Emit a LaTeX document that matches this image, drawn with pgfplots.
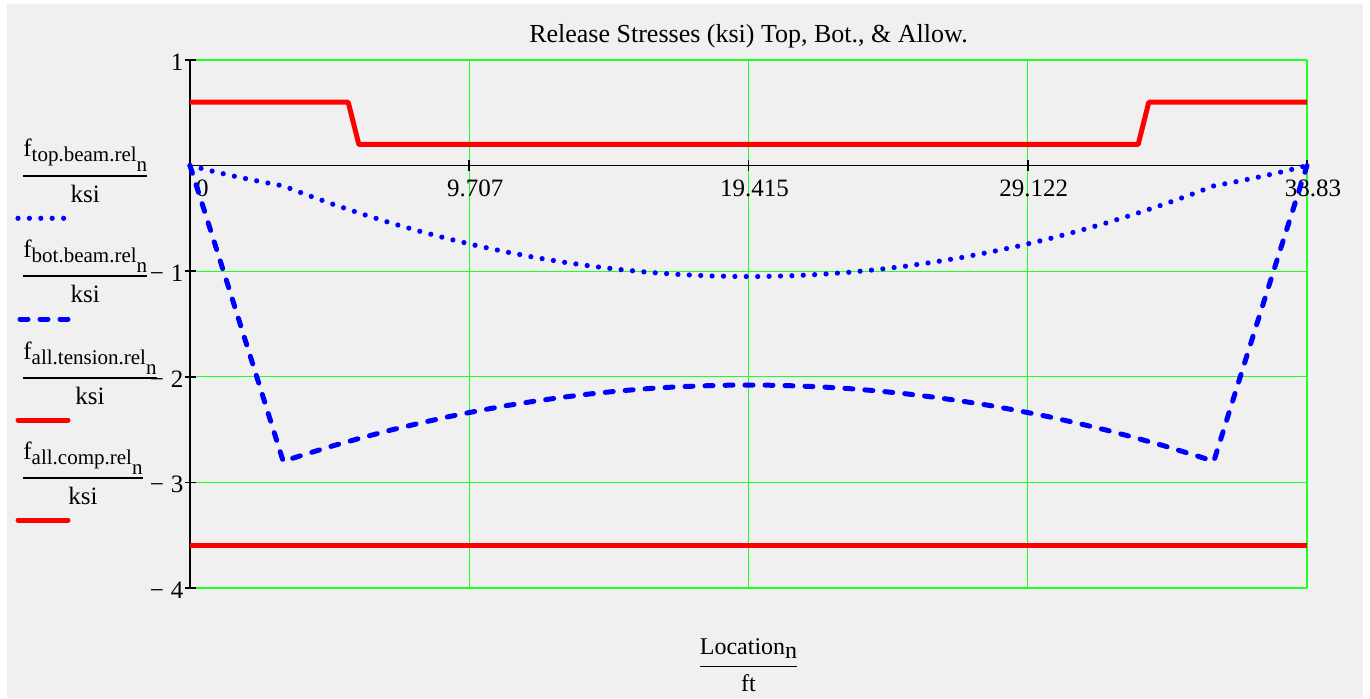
\documentclass[border=0pt]{standalone}
\usepackage{pgfplots}
\pgfplotsset{compat=1.18}
\usepackage{pgfplotstable}
\usepackage{fontspec}
\setmainfont{Liberation Serif}
\definecolor{bg}{HTML}{F0F0F0}
\definecolor{gridgreen}{HTML}{20FF20}

% stresses along the beam (ksi), symmetric about midspan
\pgfplotstableread{
x      top     bot
0      0       0
0.5    -0.034  -0.428
1      -0.067  -0.858
1.5    -0.098  -1.289
2      -0.127  -1.722
2.5    -0.154  -2.155
3      -0.180  -2.591
3.24   -0.192  -2.800
4      -0.271  -2.734
5      -0.369  -2.651
6      -0.460  -2.575
7      -0.545  -2.503
8      -0.623  -2.438
9      -0.695  -2.377
10     -0.760  -2.323
11     -0.818  -2.273
12     -0.870  -2.230
13     -0.915  -2.192
14     -0.954  -2.159
15     -0.986  -2.132
16     -1.012  -2.110
17     -1.031  -2.094
18     -1.044  -2.084
19     -1.050  -2.078
19.415 -1.050  -2.078
19.83  -1.050  -2.078
20.83  -1.044  -2.084
21.83  -1.031  -2.094
22.83  -1.012  -2.110
23.83  -0.986  -2.132
24.83  -0.954  -2.159
25.83  -0.915  -2.192
26.83  -0.870  -2.230
27.83  -0.818  -2.273
28.83  -0.760  -2.323
29.83  -0.695  -2.377
30.83  -0.623  -2.438
31.83  -0.545  -2.503
32.83  -0.460  -2.575
33.83  -0.369  -2.651
34.83  -0.271  -2.734
35.59  -0.192  -2.800
35.83  -0.180  -2.591
36.33  -0.154  -2.155
36.83  -0.127  -1.722
37.33  -0.098  -1.289
37.83  -0.067  -0.858
38.33  -0.034  -0.428
38.83  0       0
}\stresses

\pgfplotstableread{
x      ften
0      0.6
5.50   0.6
5.87   0.2
32.96  0.2
33.33  0.6
38.83  0.6
}\tension

\pgfplotstableread{
x      fcomp
0      -3.6
38.83  -3.6
}\compression

\newcommand{\fr}[2]{\begin{tabular}[t]{@{}c@{}}#1\\[5pt]\hline\rule{0pt}{13pt}#2\end{tabular}}
\newcommand{\sub}[2]{#1\raisebox{-2.5pt}{\fontsize{10.5}{12}\selectfont #2\raisebox{-5pt}{n}}}

\begin{document}
\begin{tikzpicture}
\fill[white] (0,0) rectangle (685pt,349pt);
\fill[bg] (3.5pt,0) rectangle (681.5pt,347pt);
\useasboundingbox (0,0) rectangle (685pt,349pt);
\begin{axis}[
    at={(95pt,55pt)}, anchor=south west,
    scale only axis,
    width=558.5pt, height=264pt,
    xmin=0, xmax=38.83, ymin=-4, ymax=1,
    enlargelimits=false,
    axis lines=middle,
    axis line style={-, black, line width=0.75pt},
    hide obscured x ticks=false, hide obscured y ticks=false,
    xtick={0,9.707,19.415,29.122,38.83},
    xticklabels={\hphantom{0}0,9.707,19.415,29.122,38.83},
    ytick={-4,-3,-2,-1,1},
    yticklabels={{−\hspace{3.5pt}4},{−\hspace{3.5pt}3},{−\hspace{3.5pt}2},{−\hspace{3.5pt}1},1},
    tick align=center,
    major tick length=5.5pt,
    tick style={black, line width=0.75pt},
    grid=major,
    grid style={gridgreen, line width=0.6pt},
    ticklabel style={font=\fontsize{12.5}{15}\selectfont},
    xticklabel style={xshift=3pt, yshift=-1pt},
    yticklabel style={xshift=3pt, yshift=-1.2pt},
    title={Release Stresses (ksi) Top, Bot., \& Allow.},
    title style={at={(rel axis cs:0.5,1)}, anchor=base, yshift=3pt,
                 font=\fontsize{13}{15}\selectfont},
    xlabel={\renewcommand{\arraystretch}{1}\begin{tabular}[t]{@{}c@{}}Location\raisebox{-2pt}{n}\\[2pt]\hline\rule{0pt}{12pt}ft\end{tabular}},
    xlabel style={at={(rel axis cs:0.5,0)}, anchor=base, yshift=-33pt,
                  font=\fontsize{12}{14}\selectfont},
    clip=false,
]
\addplot[red, line width=2.5pt, line join=round] table[x=x, y=ften] {\tension};
\addplot[red, line width=2.5pt] table[x=x, y=fcomp] {\compression};
\addplot[blue, line width=2.6pt, line cap=round, dash pattern=on 0pt off 5.7pt] table[x=x, y=top] {\stresses};
\addplot[blue, line width=2.5pt, line cap=round, dash pattern=on 4pt off 6pt] table[x=x, y=bot] {\stresses};
\end{axis}

% legend at the left
\begingroup
\fontsize{12.5}{14}\selectfont
\setlength{\arrayrulewidth}{0.75pt}
\node[anchor=base west, inner sep=0] at (11.5pt,270.6pt) {\fr{\sub{f}{top.beam.rel}}{ksi}};
\node[anchor=base west, inner sep=0] at (11.5pt,220.5pt) {\fr{\sub{f}{bot.beam.rel}}{ksi}};
\node[anchor=base west, inner sep=0] at (11.5pt,169.5pt) {\fr{\sub{f}{all.tension.rel}}{ksi}};
\node[anchor=base west, inner sep=0] at (11.5pt,119.5pt) {\fr{\sub{f}{all.comp.rel}}{ksi}};
\endgroup
\draw[blue, line width=2.6pt, line cap=round, dash pattern=on 0pt off 5.7pt] (9pt,239.85pt) -- (34pt,239.85pt);
\draw[blue, line width=2.5pt, line cap=round, dash pattern=on 4pt off 6pt] (10pt,189.5pt) -- (34pt,189.5pt);
\draw[red, line width=2.5pt, line cap=round] (9pt,139pt) -- (34pt,139pt);
\draw[red, line width=2.5pt, line cap=round] (9pt,89pt) -- (34pt,89pt);
\end{tikzpicture}
\end{document}
